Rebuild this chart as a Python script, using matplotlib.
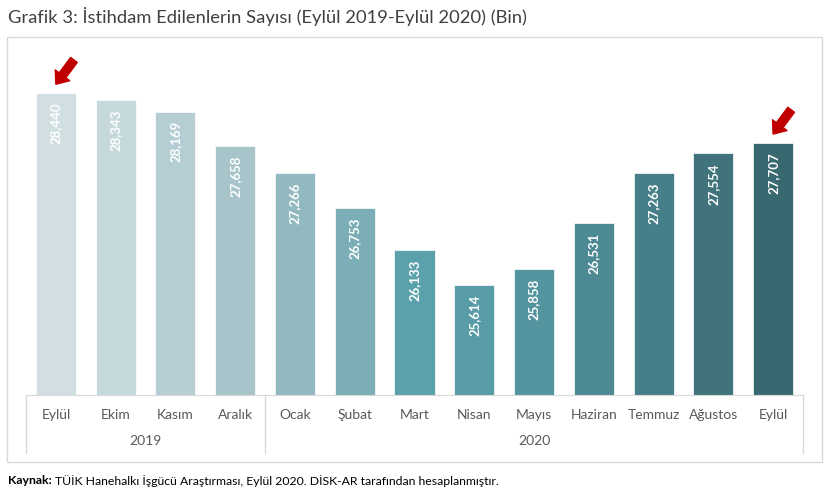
import matplotlib.pyplot as plt
from matplotlib.patches import Rectangle

plt.rcParams['font.family'] = ['Lato', 'DejaVu Sans']

# Data (bin kişi)
months = ['Eylül', 'Ekim', 'Kasım', 'Aralık', 'Ocak', 'Şubat', 'Mart',
          'Nisan', 'Mayıs', 'Haziran', 'Temmuz', 'Ağustos', 'Eylül']
years = ['2019', '2020']
year_counts = [4, 9]
employed = [28440, 28343, 28169, 27658, 27266, 26753, 26133,
            25614, 25858, 26531, 27263, 27554, 27707]
highlight = [0, 12]
colors = ['#D1DFE3', '#C5D8DC', '#B5CED4', '#A6C4CA', '#92B9C0', '#7BAEB7', '#5BA1AC',
          '#579CA7', '#54949E', '#4E8A93', '#477F88', '#40737B', '#386970']

fig = plt.figure(figsize=(8.33, 4.88), dpi=100)
ax = fig.add_axes([26 / 833, 93 / 488, 777 / 833, 340 / 488])

x = list(range(len(months)))
bars = ax.bar(x, employed, width=0.67, color=colors, edgecolor='white', linewidth=0.5)

ax.set_xlim(-0.5, len(months) - 0.5)
ax.set_ylim(24000, 29000)
ax.set_yticks([])
for s in ['left', 'right', 'top']:
    ax.spines[s].set_visible(False)
ax.spines['bottom'].set_color('#D9D9D9')

ax.set_xticks(x)
ax.set_xticklabels(months, fontsize=10, color='#595959')
ax.tick_params(axis='x', length=0, pad=10)

# value labels inside bars
for b, v in zip(bars, employed):
    ax.annotate(f'{v:,}', (b.get_x() + b.get_width() / 2, v), xytext=(0, -7),
                textcoords='offset points', rotation=90, ha='center', va='top',
                color='white', fontsize=9.5, fontweight='bold')

# year grouping
trans = ax.get_xaxis_transform()
start = 0
bounds = [-0.5]
for yr, n in zip(years, year_counts):
    ax.text(start + (n - 1) / 2, -0.135, yr, transform=trans, ha='center', va='center',
            fontsize=10, color='#595959')
    start += n
    bounds.append(start - 0.5)
for bx in bounds:
    ax.plot([bx, bx], [0, -0.17], transform=trans, color='#D9D9D9', lw=1, clip_on=False)

# arrows
for i in highlight:
    ax.annotate('', xy=(i, employed[i] + 130), xytext=(13, 17.5), textcoords='offset points',
                arrowprops=dict(arrowstyle='simple,head_length=0.8,head_width=1.3,tail_width=0.6',
                                mutation_scale=10, color='#C00000', shrinkA=0, shrinkB=0))

# outer frame
fig.patches.append(Rectangle((7 / 833, 1 - 462 / 488), 815 / 833, 425 / 488,
                             transform=fig.transFigure, fill=False,
                             edgecolor='#D9D9D9', lw=1))

fig.text(8 / 833, 1 - 16 / 488, 'Grafik 3: İstihdam Edilenlerin Sayısı (Eylül 2019-Eylül 2020) (Bin)',
         fontsize=13.2, color='#404040', va='center', ha='left')

renderer = fig.canvas.get_renderer()
t1 = fig.text(8 / 833, 1 - 481 / 488, 'Kaynak:', fontsize=8.8, fontweight='bold',
              color='black', va='center', ha='left')
bb = t1.get_window_extent(renderer)
fig.text(bb.x1 / 833 + 3 / 833, 1 - 481 / 488,
         'TÜİK Hanehalkı İşgücü Araştırması, Eylül 2020. DİSK-AR tarafından hesaplanmıştır.',
         fontsize=8.8, color='black', va='center', ha='left')

fig.savefig('out.png', dpi=100)
